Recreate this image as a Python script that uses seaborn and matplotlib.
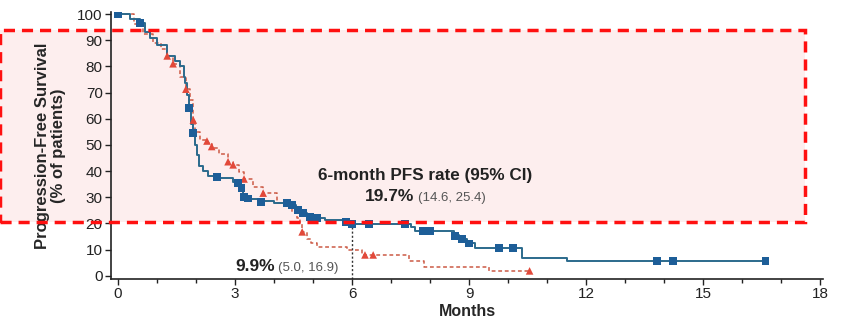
import matplotlib
matplotlib.use("Agg")
import matplotlib.pyplot as plt
import seaborn as sns
import pandas as pd
from matplotlib.patches import Rectangle
from matplotlib.ticker import MultipleLocator

# --- KM curve data ---
blue_t = [0, 0.3, 0.56, 0.7, 0.82, 1.0, 1.26, 1.45, 1.59, 1.68, 1.72, 1.78, 1.82, 1.87,
          1.92, 1.97, 2.02, 2.08, 2.18, 2.3, 2.6, 2.95, 3.1, 3.15, 3.2, 3.35, 3.6, 4.0,
          4.4, 4.55, 4.7, 4.85, 5.0, 5.3, 5.85, 5.95, 7.5, 7.6, 8.62, 8.75, 8.95, 9.15,
          10.36, 11.52, 16.6]
blue_s = [100, 98, 96.5, 93, 91, 88, 84, 82, 80, 76, 73.5, 69, 64, 58,
          54.5, 50, 46, 42, 40, 38.3, 37.5, 36, 35, 33.5, 30.5, 29.5, 28.5, 27.8,
          27, 25.5, 24.2, 23, 22.2, 21.3, 20.5, 19.9, 18.5, 17.2, 15.5, 14.1, 12.5, 10.7,
          6.9, 5.7, 5.7]
blue_cens_t = [0, 0.56, 1.82, 1.92, 2.53, 3.08, 3.17, 3.23, 3.33, 3.67, 4.33, 4.46, 4.62,
               4.74, 4.92, 5.1, 5.85, 6.0, 6.44, 7.36, 7.8, 8.0, 8.64, 8.82, 9.0, 9.77,
               10.13, 13.82, 14.23, 16.6]
blue_cens_s = [100, 96.5, 64, 54.5, 37.8, 35.4, 33.6, 30.2, 29.6, 28.3, 27.8, 27.1, 25.2,
               24.0, 22.5, 22.1, 20.6, 19.9, 19.9, 19.9, 17.2, 17.2, 15.2, 14.1, 12.3, 10.7,
               10.7, 5.7, 5.7, 5.7]

red_t = [0, 0.4, 0.64, 0.9, 1.1, 1.26, 1.41, 1.6, 1.74, 1.85, 1.93, 1.97, 2.1, 2.3, 2.42,
         2.6, 2.83, 2.95, 3.1, 3.23, 3.45, 3.72, 4.07, 4.3, 4.46, 4.6, 4.67, 4.72, 4.85,
         4.95, 5.1, 5.87, 6.25, 7.45, 7.85, 9.52, 10.55]
red_s = [100, 96, 92.5, 89, 86.5, 84, 81, 76, 71.3, 67, 59.5, 55, 52, 50.6, 48.8,
         46.5, 43.6, 42.4, 39.5, 37, 34, 31.6, 27.8, 26.5, 24.4, 22, 20.2, 16.8, 14,
         12.5, 11.1, 9.9, 8.0, 5.5, 3.4, 1.9, 1.9]
red_cens_t = [1.26, 1.41, 1.74, 1.93, 2.28, 2.4, 2.82, 2.95, 3.23, 3.72, 4.72, 6.33, 6.54, 10.55]
red_cens_s = [84, 81, 71.3, 59.5, 51.5, 49.4, 43.6, 42.4, 37, 31.6, 16.8, 8.0, 8.0, 1.9]

blue_line = "#2b6a8c"
blue_mark = "#1d5e98"
red_line = "#cc5a45"
red_mark = "#e2493a"

blue_df = pd.DataFrame({"months": blue_t, "pfs": blue_s})
red_df = pd.DataFrame({"months": red_t, "pfs": red_s})
blue_c = pd.DataFrame({"months": blue_cens_t, "pfs": blue_cens_s})
red_c = pd.DataFrame({"months": red_cens_t, "pfs": red_cens_s})

sns.set_style("ticks")
plt.rcParams['font.family'] = ['Liberation Sans', 'DejaVu Sans']

fig = plt.figure(figsize=(8.41, 3.22), dpi=100)
ax = fig.add_axes([0.132, 0.1335, 0.847, 0.8295])
ax.set_facecolor("none")

# pink highlight box behind the plot
fig.patches.append(Rectangle((0, 0.3106), 0.957, 0.596, transform=fig.transFigure,
                             facecolor="#fdeeee", edgecolor="none", zorder=-1))
fig.patches.append(Rectangle((0, 0.3106), 0.957, 0.596, transform=fig.transFigure,
                             facecolor="none", edgecolor="#ff1010", linewidth=2.5,
                             linestyle=(0, (3.2, 2)), zorder=5))

sns.lineplot(data=red_df, x="months", y="pfs", ax=ax, color=red_line, lw=1.1,
             drawstyle="steps-post", linestyle=(0, (2.5, 1.8)), estimator=None, sort=False)
sns.lineplot(data=blue_df, x="months", y="pfs", ax=ax, color=blue_line, lw=1.4,
             drawstyle="steps-post", estimator=None, sort=False)
sns.scatterplot(data=red_c, x="months", y="pfs", ax=ax, color=red_mark, marker="^",
                s=30, edgecolor="none", zorder=3)
sns.scatterplot(data=blue_c, x="months", y="pfs", ax=ax, color=blue_mark, marker="s",
                s=30, edgecolor="none", zorder=4)

# 6-month reference line
ax.plot([6, 6], [-1.2, 19.9], color="#333333", lw=1, linestyle=(0, (1.5, 1.5)))

ax.text(7.86, 38.5, "6-month PFS rate (95% CI)", ha="center", va="center",
        fontsize=12.3, fontweight="bold", color="#222222")
ax.text(6.33, 30.2, "19.7%", ha="left", va="center", fontsize=12.5,
        fontweight="bold", color="#222222")
ax.text(7.69, 29.8, "(14.6, 25.4)", ha="left", va="center", fontsize=9.5, color="#555555")
ax.text(3.0, 3.4, "9.9%", ha="left", va="center", fontsize=12.5,
        fontweight="bold", color="#222222")
ax.text(4.1, 3.0, "(5.0, 16.9)", ha="left", va="center", fontsize=9.5, color="#555555")

ax.set_xlim(-0.18, 18.08)
ax.set_ylim(-1.2, 100.8)
ax.xaxis.set_major_locator(MultipleLocator(3))
ax.xaxis.set_minor_locator(MultipleLocator(1))
ax.yaxis.set_major_locator(MultipleLocator(10))
ax.tick_params(axis="both", which="major", labelsize=11, length=4, width=1,
               colors="#222222", pad=2)
ax.tick_params(axis="x", which="minor", length=3, width=1, color="#222222")
for sp in ["left", "bottom"]:
    ax.spines[sp].set_color("#222222")
    ax.spines[sp].set_linewidth(1.2)
sns.despine(ax=ax)

ax.set_xlabel("Months", fontsize=11.5, fontweight="bold", labelpad=2)
ax.set_ylabel("Progression-Free Survival\n(% of patients)", fontsize=12,
              fontweight="bold", labelpad=8, linespacing=1.1)

fig.savefig("out.png", dpi=100)
